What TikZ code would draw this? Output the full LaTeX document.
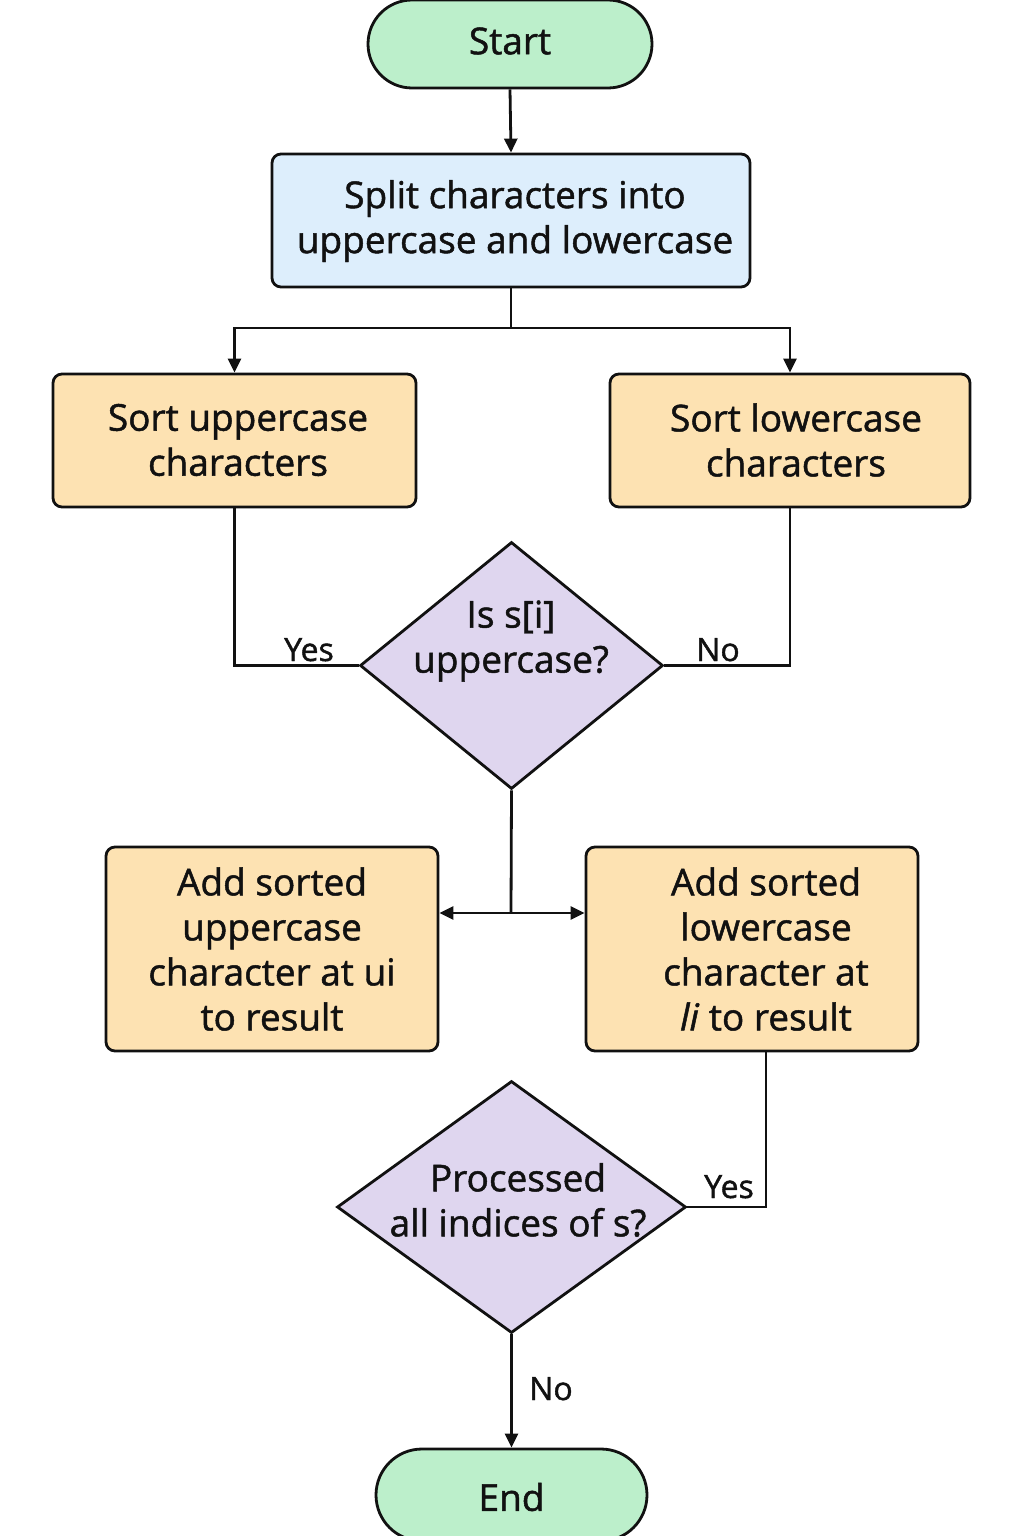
\documentclass[tikz,border=0pt]{standalone}
\usepackage{fontspec}
\setmainfont{Open Sans}[FakeBold=1.3]
\usetikzlibrary{arrows.meta,shapes.geometric}
\definecolor{termfill}{HTML}{BCEFCB}
\definecolor{bluefill}{HTML}{DDEEFC}
\definecolor{procfill}{HTML}{FDE2B2}
\definecolor{decfill}{HTML}{DFD6EF}
\definecolor{ink}{HTML}{111111}
\tikzset{
  base/.style={draw=ink, line width=2.8pt, inner sep=0pt, text=ink},
  term/.style={base, fill=termfill, rounded corners=44pt, minimum width=284pt, minimum height=88pt},
  blueproc/.style={base, fill=bluefill, rounded corners=9pt},
  proc/.style={base, fill=procfill, rounded corners=9pt},
  dec/.style={base, fill=decfill, shape=diamond, aspect=1.2},
  txt/.style={text=ink, align=center, inner sep=0pt, font=\fontsize{37}{45}\selectfont},
  lbl/.style={text=ink, inner sep=0pt, font=\fontsize{32}{36}\selectfont},
  conn/.style={draw=ink, line width=2.8pt},
  arr/.style={conn, -{Triangle[length=14pt,width=13pt]}},
}
\begin{document}
\begin{tikzpicture}[x=1pt,y=-1pt]
\useasboundingbox (0,0) rectangle (1024,1536);
\fill[white] (0,0) rectangle (1024,1536);
\clip (0,0) rectangle (1024,1536);

% shapes
\node[term] (start) at (510,44) {};
\node[txt] (starttxt) at (510,41) {Start};

\node[blueproc, minimum width=478pt, minimum height=133pt] (split) at (511,220.5) {};
\node[txt] (splittxt) at (515,221) {Split characters into\\uppercase and lowercase};

\node[proc, minimum width=363pt, minimum height=133pt] (supper) at (234.5,440.5) {};
\node[txt] (suppertxt) at (238,440) {Sort uppercase\\characters};

\node[proc, minimum width=360pt, minimum height=133pt] (slower) at (790,440.5) {};
\node[txt] (slowertxt) at (796,440) {Sort lowercase\\characters};

\node[dec, minimum width=303pt, minimum height=247pt] (d1) at (511.5,665.5) {};
\node[txt] (d1txt) at (511,641) {Is s[i]\\uppercase?};

\node[proc, minimum width=332pt, minimum height=204pt] (aupper) at (272,949) {};
\node[txt] (auppertxt) at (272,949) {Add sorted\\uppercase\\character at ui\\to result};

\node[proc, minimum width=332pt, minimum height=204pt] (alower) at (752,949) {};
\node[txt] (alowertxt) at (766,949) {Add sorted\\lowercase\\character at\\\textit{li} to result};

\node[dec, minimum width=349pt, minimum height=252pt] (d2) at (511.5,1207) {};
\node[txt] (d2txt) at (518,1200) {Processed\\all indices of s?};

\node[term, minimum width=271pt, minimum height=92pt, rounded corners=46pt] (end) at (511.5,1495) {};
\node[txt] (endtxt) at (511.5,1497) {End};

% connectors
\coordinate (j1) at (511,328);
\coordinate (j2) at (511,913);
\draw[arr] (start.south) -- (split.north);
\draw[conn] (split.south) -- (j1);
\draw[arr] (j1) -| (supper.north);
\draw[arr] (j1) -| (slower.north);

\draw[conn] (supper.south) |- (d1.west);
\draw[conn] (slower.south) |- (d1.east);
\node[lbl, anchor=base] (yes1) at (309,661) {Yes};
\node[lbl, anchor=base] (no1) at (718,661) {No};

\draw[conn] (d1.south) -- (j2);
\draw[arr] (j2) -- (aupper.east |- j2);
\draw[arr] (j2) -- (alower.west |- j2);

\coordinate (c2) at (766,1051);
\draw[conn] (c2) |- (d2.east);
\node[lbl, anchor=base] (yes2) at (729,1198) {Yes};

\draw[arr] (d2.south) -- (end.north);
\node[lbl, anchor=base] (no2) at (551,1400) {No};
\end{tikzpicture}
\end{document}
